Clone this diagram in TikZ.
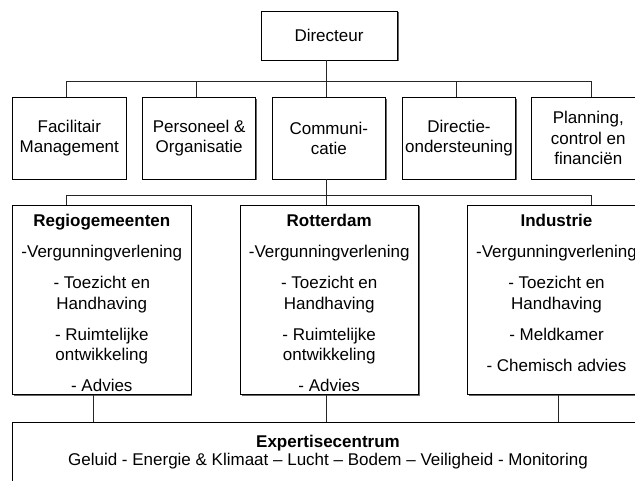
\documentclass[tikz,border=0pt]{standalone}
\usepackage{fontspec}
\setmainfont{Liberation Sans}
\usetikzlibrary{shadows}
\begin{document}
\begin{tikzpicture}[x=1pt,y=-1pt,
  box/.style={draw=black, line width=0.8pt, fill=white, inner sep=0pt,
    drop shadow={shadow xshift=1.5pt, shadow yshift=-1.5pt, fill=black!60, opacity=1}},
  lbl/.style={inner sep=0pt, align=center, font=\fontsize{17}{20.5}\selectfont},
  conn/.style={draw=black!85, line width=0.8pt}]
\useasboundingbox (0,0) rectangle (635,481);
\clip (0,0) rectangle (635,481);

% top
\node[box, lbl, minimum width=136, minimum height=49] (dir) at (329,35.5) {Directeur};

% row 2
\tikzset{rowtwo/.style={box, lbl, minimum width=113.3, minimum height=81.3}}
\node[rowtwo] (fm) at (69.3,138.3) {Facilitair\\Management};
\node[rowtwo] (po) at (199.2,138.3) {Personeel \&\\Organisatie};
\node[rowtwo] (com) at (328.8,138.3) {Communi-\\catie};
\node[rowtwo] (dos) at (459,138.3) {Directie-\\ondersteuning};
\node[rowtwo] (pc) at (588.3,138.3) {Planning,\\control en\\financiën};

% row 3
\tikzset{rowthree/.style={box, minimum width=178.3, minimum height=189.5}}
\node[rowthree] (reg) at (101.8,299.7) {};
\node[rowthree] (rot) at (329.2,299.7) {};
\node[rowthree] (ind) at (556.5,299.7) {};
\node[lbl, anchor=north] (regT) at ([yshift=-9.8pt]reg.north)
  {\textbf{Regiogemeenten}\\[10.5pt]-Vergunningverlening\\[10.5pt]- Toezicht en\\Handhaving\\[10.5pt]- Ruimtelijke\\ontwikkeling\\[10.5pt]- Advies};
\node[lbl, anchor=north] (rotT) at ([yshift=-9.8pt]rot.north)
  {\textbf{Rotterdam}\\[10.5pt]-Vergunningverlening\\[10.5pt]- Toezicht en\\Handhaving\\[10.5pt]- Ruimtelijke\\ontwikkeling\\[10.5pt]- Advies};
\node[lbl, anchor=north] (indT) at ([yshift=-9.8pt]ind.north)
  {\textbf{Industrie}\\[10.5pt]-Vergunningverlening\\[10.5pt]- Toezicht en\\Handhaving\\[10.5pt]- Meldkamer\\[10.5pt]- Chemisch advies};

% bottom
\node[box, minimum width=630.8, minimum height=78] (exp) at (328,461) {};
\node[inner sep=0pt, align=center, font=\fontsize{17}{18}\selectfont] (expT) at (328,452)
  {\textbf{Expertisecentrum}\\Geluid - Energie \& Klimaat – Lucht – Bodem – Veiligheid - Monitoring};

% connectors
\coordinate (a1) at (66.7,81.7);
\coordinate (a2) at (196.3,81.7);
\coordinate (a3) at (326.7,81.7);
\coordinate (a4) at (456,81.7);
\coordinate (a5) at (591,81.7);
\draw[conn] (a3 |- dir.south) -- (a3);
\draw[conn] (a1 |- fm.north) -- (a1) -- (a5) -- (a5 |- pc.north);
\draw[conn] (a2) -- (a2 |- po.north);
\draw[conn] (a3) -- (a3 |- com.north);
\draw[conn] (a4) -- (a4 |- dos.north);

\coordinate (c1) at (66.7,195);
\coordinate (c2) at (326.7,195);
\coordinate (c3) at (591,195);
\draw[conn] (c2 |- com.south) -- (c2);
\draw[conn] (c1 |- reg.north) -- (c1) -- (c3) -- (c3 |- ind.north);
\draw[conn] (c2) -- (c2 |- rot.north);

\coordinate (d1) at (93.7,422);
\coordinate (d2) at (326.7,422);
\coordinate (d3) at (558.3,422);
\draw[conn] (d1 |- reg.south) -- (d1 |- exp.north);
\draw[conn] (d2 |- rot.south) -- (d2 |- exp.north);
\draw[conn] (d3 |- ind.south) -- (d3 |- exp.north);
\end{tikzpicture}
\end{document}
